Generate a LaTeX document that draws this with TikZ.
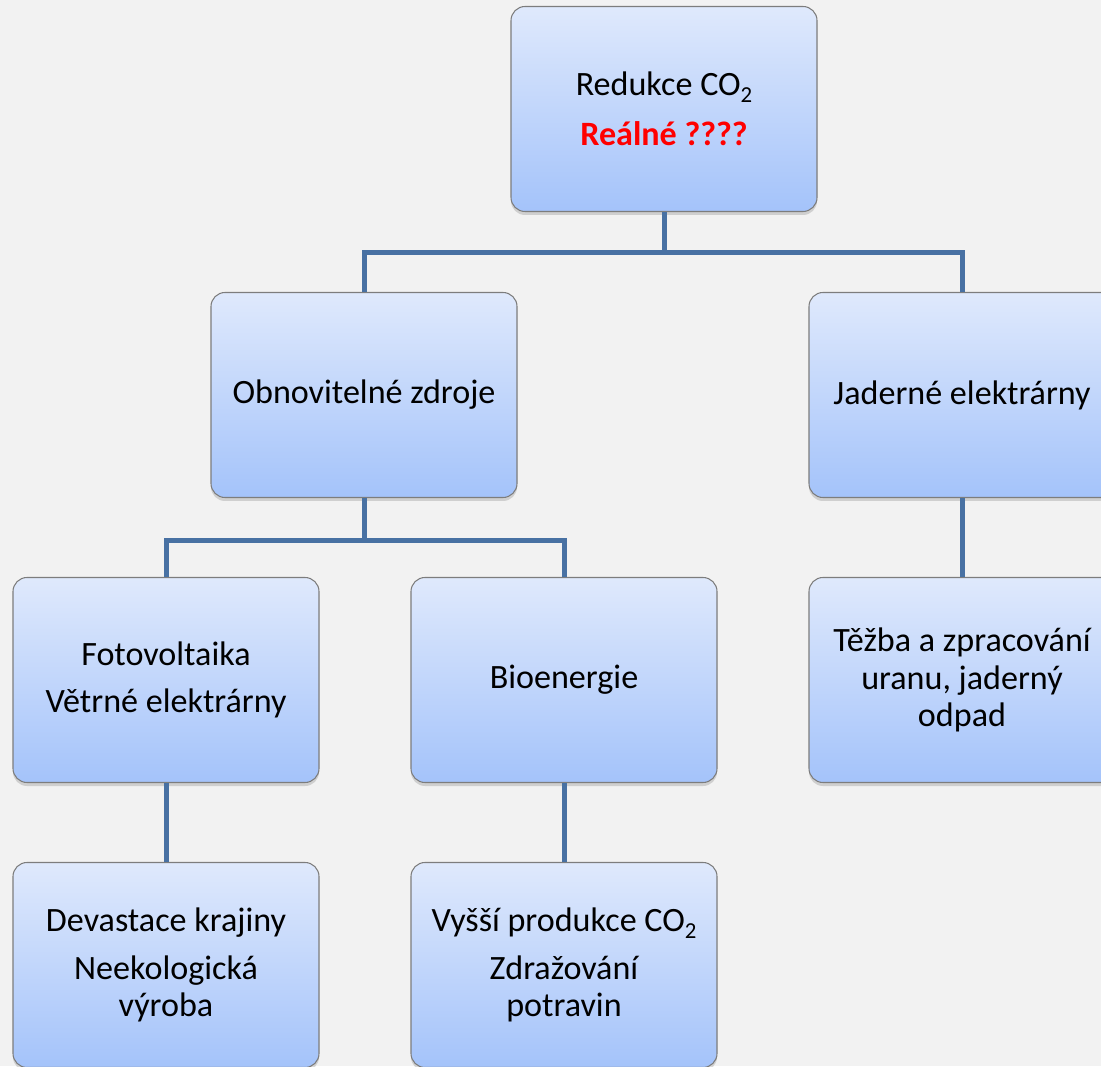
\documentclass[tikz,border=0pt]{standalone}
\usepackage{fontspec}
\setmainfont{Carlito}
\usetikzlibrary{shadows}
\definecolor{boxtop}{RGB}{223,233,252}
\definecolor{boxbot}{RGB}{164,195,250}
\definecolor{boxline}{RGB}{125,125,125}
\definecolor{linkblue}{RGB}{72,113,163}
\definecolor{bggray}{RGB}{242,242,242}
\newcommand{\cotwo}{CO\raisebox{-0.45ex}{\fontsize{13}{13}\selectfont 2}}
\begin{document}
\begin{tikzpicture}[
    box/.style={draw=boxline, line width=0.6pt, rounded corners=0.28cm,
      top color=boxtop, bottom color=boxbot,
      minimum width=6.12cm, minimum height=4.1cm, align=center,
      font=\fontsize{19.4}{21.5}\selectfont,
      drop shadow={shadow xshift=0pt, shadow yshift=-0.07cm, opacity=0.3}},
    link/.style={draw=linkblue, line width=0.1cm}]
  \clip (0,0) rectangle (22.02,21.32);
  \fill[bggray] (0,0) rectangle (22.02,21.32);

  % Nodes
  \node[box] (redukce) at (13.28,19.14) {Redukce \cotwo\\[0.25cm]\textcolor{red}{\bfseries Reálné ????}};
  \node[box] (obnov) at (7.28,13.42) {Obnovitelné zdroje};
  \node[box] (jaderne) at (19.24,13.42) {Jaderné elektrárny};
  \node[box] (foto) at (3.32,7.72) {Fotovoltaika\\[0.18cm]Větrné elektrárny};
  \node[box] (bio) at (11.28,7.72) {Bioenergie};
  \node[box] (tezba) at (19.24,7.72) {Těžba a zpracování\\uranu, jaderný\\odpad};
  \node[box] (devast) at (3.32,2.02) {Devastace krajiny\\[0.2cm]Neekologická\\výroba};
  \node[box] (vyssi) at (11.28,2.02) {Vyšší produkce \cotwo\\[0.2cm]Zdražování\\potravin};

  % Connectors
  \foreach \a/\b in {redukce/obnov, redukce/jaderne}
    \draw[link] (\a.south) -- ++(0,-0.8) -| (\b.north);
  \foreach \a/\b in {obnov/foto, obnov/bio}
    \draw[link] (\a.south) -- ++(0,-0.84) -| (\b.north);
  \foreach \a/\b in {jaderne/tezba, foto/devast, bio/vyssi}
    \draw[link] (\a.south) -- (\b.north);

\end{tikzpicture}
\end{document}
